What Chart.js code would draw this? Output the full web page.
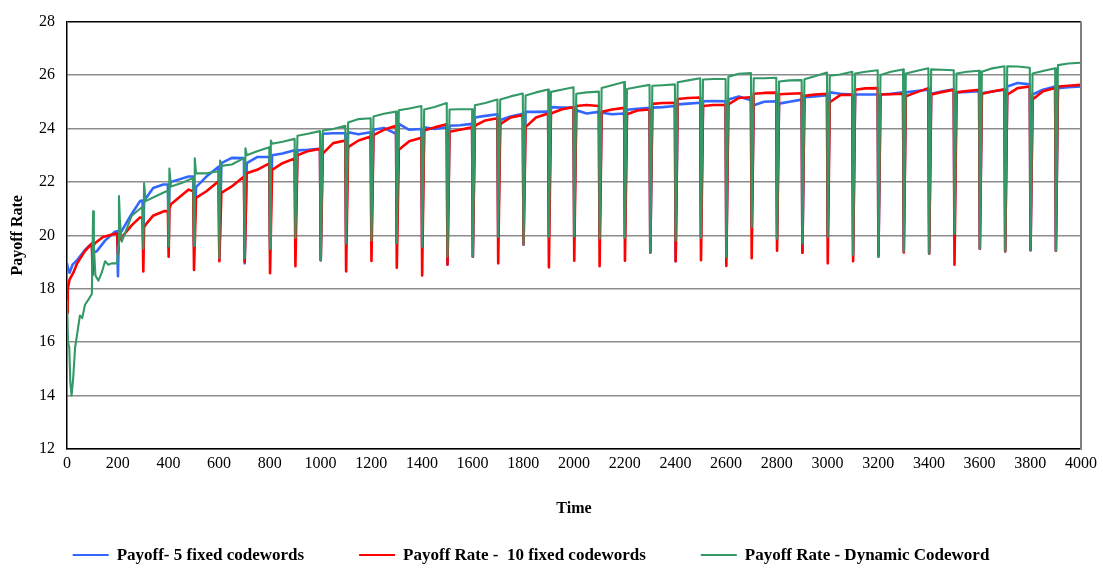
<!DOCTYPE html>
<html>
<head>
<meta charset="utf-8">
<title>Payoff Rate over Time</title>
<script src="https://cdn.jsdelivr.net/npm/chart.js@4.4.1/dist/chart.umd.min.js"></script>
<style>
  html, body { margin: 0; padding: 0; background: #ffffff; }
  #wrap { width: 1103px; height: 568px; }
</style>
</head>
<body>
<div id="wrap"><canvas id="chart" width="1103" height="568"></canvas></div>
<script>
// ---- series labels ----
const seriesLabels = [
  'Payoff- 5 fixed codewords',
  'Payoff Rate -  10 fixed codewords',
  'Payoff Rate - Dynamic Codeword'
];

// ---- axis ticks ----
const yTicks = [12, 14, 16, 18, 20, 22, 24, 26, 28];
const xTickStep = 200;
const xRange = [0, 4000];

// ---- first 500 time steps, sampled as [time, rate] ----
const blueEarly = [
  [0, 18.95], [4, 18.75], [10, 18.6], [22, 18.9], [40, 19.07], [70, 19.44], [90, 19.63], [98, 19.6],
  [101, 19.3], [104, 19.35], [117, 19.4], [150, 19.8], [189, 20.13], [198, 20.15],
  [201, 18.47], [204, 19.9], [212, 20.1], [255, 20.8], [288, 21.28], [298, 21.3],
  [301, 19.6], [304, 21.3], [312, 21.4], [340, 21.77], [380, 21.9], [398, 21.9],
  [401, 19.58], [404, 21.9], [410, 22.0], [480, 22.2], [498, 22.2]
];
const redEarly = [
  [0, 17.1], [3, 18.0], [10, 18.34], [25, 18.6], [40, 18.95], [70, 19.4], [98, 19.7],
  [101, 18.52], [104, 19.6], [110, 19.7], [142, 19.94], [189, 20.06], [198, 20.06],
  [201, 19.3], [204, 19.8], [212, 19.88], [255, 20.37], [288, 20.67], [298, 20.65],
  [301, 18.65], [304, 20.3], [312, 20.42], [339, 20.73], [385, 20.91], [398, 20.9],
  [401, 19.2], [404, 21.0], [410, 21.16], [480, 21.71], [498, 21.65]
];
const greenEarly = [
  [0, 17.6], [4, 16.0], [9, 15.8], [13, 14.5], [18, 14.0], [24, 14.6], [32, 15.8], [40, 16.3],
  [51, 17.0], [60, 16.9], [71, 17.4], [85, 17.6], [98, 17.8],
  [101, 19.5], [103, 20.9], [106, 19.6], [112, 18.5], [124, 18.3], [137, 18.6], [150, 19.03],
  [163, 18.9], [176, 18.95], [198, 18.95],
  [202, 19.6], [205, 21.47], [209, 20.5], [216, 19.76], [255, 20.73], [294, 21.04], [298, 21.0],
  [301, 19.5], [304, 21.95], [310, 21.28], [350, 21.46], [392, 21.65], [398, 21.65],
  [401, 19.58], [404, 22.5], [410, 21.83], [450, 21.95], [498, 22.15]
];

// ---- reset cycles from t = 500 to t = 3900 ----
const cycleTimes = [500, 600, 700, 800, 900, 1000, 1100, 1200, 1300, 1400, 1500, 1600, 1700, 1800,
  1900, 2000, 2100, 2200, 2300, 2400, 2500, 2600, 2700, 2800, 2900, 3000, 3100, 3200, 3300, 3400,
  3500, 3600, 3700, 3800, 3900];

// blue: payoff with 5 fixed codewords
const blueDip = [19.6, 19.1, 18.95, 19.5, 19.9, 19.07, 19.69, 19.8, 19.7, 19.57, 18.92, 19.2, 19.94, 19.66,
  19.94, 19.96, 19.87, 19.9, 19.36, 19.03, 19.9, 19.2, 20.3, 19.87, 19.35, 19.93, 19.26, 19.2, 19.39, 19.32,
  20.05, 19.5, 19.4, 19.44, 19.42];
const blueSettle = [21.8, 22.7, 22.7, 23.0, 23.18, 23.8, 23.86, 23.95, 24.17, 24.04, 24.1, 24.41, 24.32, 24.62,
  24.8, 24.68, 24.59, 24.7, 24.78, 24.9, 25.02, 25.08, 24.87, 24.93, 25.17, 25.35, 25.27, 25.27, 25.35, 25.3,
  25.35, 25.32, 25.57, 25.27, 25.51];
const blueMid = [22.2, 22.9, 22.93, 23.06, 23.2, 23.82, 23.78, 24.02, 23.95, 23.98, 24.12, 24.47, 24.45, 24.62,
  24.78, 24.56, 24.53, 24.74, 24.8, 24.93, 25.03, 25.2, 25.0, 25.0, 25.2, 25.3, 25.27, 25.3, 25.4, 25.38,
  25.37, 25.38, 25.7, 25.45, 25.54];
const blueEnd = [22.57, 22.89, 22.93, 23.18, 23.24, 23.82, 23.86, 23.8, 23.98, 24.04, 24.17, 24.53, 24.55, 24.63,
  24.78, 24.62, 24.56, 24.77, 24.84, 24.96, 25.02, 25.06, 25.02, 25.08, 25.24, 25.27, 25.27, 25.35, 25.45, 25.47,
  25.39, 25.45, 25.65, 25.57, 25.57];

// red: payoff rate with 10 fixed codewords
const redDip = [18.7, 19.03, 19.0, 18.58, 18.84, 19.07, 18.65, 19.04, 18.79, 18.5, 18.9, 19.2, 18.95, 19.66,
  18.8, 19.05, 18.84, 19.05, 19.36, 19.03, 19.07, 18.85, 19.14, 19.42, 19.35, 18.95, 19.03, 19.25, 19.36, 19.32,
  18.9, 19.5, 19.4, 19.44, 19.42];
const redSettle = [21.4, 21.59, 22.32, 22.45, 23.0, 23.06, 23.3, 23.75, 23.2, 23.92, 23.88, 24.1, 24.16, 24.05,
  24.56, 24.84, 24.62, 24.53, 24.92, 25.1, 24.84, 24.9, 25.3, 25.28, 25.22, 24.98, 25.45, 25.27, 25.2, 25.27,
  25.35, 25.3, 25.27, 25.08, 25.57];
const redMid = [21.65, 21.83, 22.45, 22.7, 23.15, 23.45, 23.55, 23.95, 23.52, 24.04, 23.95, 24.3, 24.41, 24.41,
  24.71, 24.88, 24.71, 24.67, 24.95, 25.14, 24.88, 25.14, 25.33, 25.3, 25.27, 25.25, 25.5, 25.28, 25.35, 25.36,
  25.4, 25.38, 25.51, 25.39, 25.6];
const redEnd = [22.02, 22.2, 22.69, 22.88, 23.24, 23.55, 23.7, 24.1, 23.65, 24.16, 24.04, 24.38, 24.5, 24.56,
  24.8, 24.84, 24.77, 24.71, 24.96, 25.16, 24.88, 25.17, 25.34, 25.32, 25.3, 25.26, 25.51, 25.3, 25.51, 25.45,
  25.45, 25.47, 25.57, 25.51, 25.63];

// green: payoff rate with dynamic codeword
const greenDip = [19.6, 19.14, 19.14, 19.5, 19.9, 19.07, 19.69, 19.8, 19.7, 19.57, 19.2, 19.2, 19.94, 19.66,
  19.94, 19.96, 19.87, 19.9, 19.36, 19.8, 19.9, 19.2, 20.3, 19.87, 19.69, 19.93, 19.26, 19.2, 19.39, 19.32,
  20.05, 19.5, 19.4, 19.44, 19.42];
const greenPeak = [22.88, 22.8, 23.26, 23.55, null, null, null, null, null, null, null, null, null, null,
  null, null, null, null, null, null, null, null, null, null, null, null, null, null, null, null,
  null, null, null, null, null];
const greenSettle = [22.32, 22.6, 23.0, 23.43, 23.73, 23.92, 24.22, 24.45, 24.68, 24.71, 24.71, 24.87, 25.08, 25.23,
  25.37, 25.3, 25.51, 25.48, 25.6, 25.73, 25.83, 25.94, 25.88, 25.76, 25.84, 25.97, 26.06, 26.0, 26.06, 26.21,
  26.06, 26.12, 26.33, 26.06, 26.37];
const greenMid = [22.32, 22.65, 23.15, 23.5, 23.8, 23.98, 24.35, 24.55, 24.75, 24.8, 24.72, 24.95, 25.2, 25.35,
  25.45, 25.35, 25.62, 25.55, 25.62, 25.8, 25.85, 26.05, 25.88, 25.8, 25.95, 26.02, 26.12, 26.12, 26.15, 26.2,
  26.12, 26.25, 26.32, 26.15, 26.43];
const greenEnd = [22.4, 22.89, 23.3, 23.61, 23.9, 24.1, 24.38, 24.63, 24.84, 24.95, 24.72, 25.08, 25.31, 25.46,
  25.54, 25.38, 25.74, 25.63, 25.65, 25.88, 25.85, 26.07, 25.9, 25.81, 26.09, 26.12, 26.18, 26.21, 26.25, 26.18,
  26.16, 26.33, 26.27, 26.25, 26.46];

// Each cycle: the sharp drop right after the reset, an optional overshoot,
// the settled level, the middle of the cycle and its last sample.
const cycleOffsets = { dip: 1, peak: 4, settle: 9, mid: 50, end: 98 };

function buildSeries(early, dips, peaks, settles, mids, ends) {
  const pts = early.map(([x, y]) => ({ x, y }));
  cycleTimes.forEach((t, i) => {
    pts.push({ x: t + cycleOffsets.dip, y: dips[i] });
    if (peaks && peaks[i] != null) pts.push({ x: t + cycleOffsets.peak, y: peaks[i] });
    pts.push({ x: t + cycleOffsets.settle, y: settles[i] });
    pts.push({ x: t + cycleOffsets.mid, y: mids[i] });
    pts.push({ x: t + cycleOffsets.end, y: ends[i] });
  });
  return pts;
}

const colors = ['rgb(51,102,255)', 'rgb(255,0,0)', 'rgb(51,153,102)'];
const FONT = "'Liberation Serif', 'Times New Roman', serif";

// right-hand frame edge of the plot area
const frameEdge = {
  id: 'frameEdge',
  afterDraw(chart) {
    const { ctx, chartArea: a } = chart;
    ctx.save();
    ctx.strokeStyle = '#808080';
    ctx.lineWidth = 2;
    ctx.beginPath();
    ctx.moveTo(a.right, a.top);
    ctx.lineTo(a.right, a.bottom + 1);
    ctx.stroke();
    ctx.restore();
  }
};

// legend row under the axis title
const lineLegend = {
  id: 'lineLegend',
  afterDraw(chart) {
    const { ctx } = chart;
    const sample = 36, gapText = 8, gapItem = 55, y = 555, centre = 531;
    ctx.save();
    ctx.font = 'bold 17px ' + FONT;
    ctx.textBaseline = 'middle';
    ctx.textAlign = 'left';
    const widths = seriesLabels.map(t => sample + gapText + ctx.measureText(t).width);
    const total = widths.reduce((s, w) => s + w, 0) + gapItem * (widths.length - 1);
    let x = centre - total / 2;
    seriesLabels.forEach((t, i) => {
      ctx.strokeStyle = colors[i];
      ctx.lineWidth = 2;
      ctx.beginPath();
      ctx.moveTo(x, y);
      ctx.lineTo(x + sample, y);
      ctx.stroke();
      ctx.fillStyle = '#000';
      ctx.fillText(t, x + sample + gapText, y + 1);
      x += widths[i] + gapItem;
    });
    ctx.restore();
  }
};

const datasets = [
  { label: seriesLabels[0], data: buildSeries(blueEarly, blueDip, null, blueSettle, blueMid, blueEnd),
    borderColor: colors[0], borderWidth: 2.6, order: 3 },
  { label: seriesLabels[1], data: buildSeries(redEarly, redDip, null, redSettle, redMid, redEnd),
    borderColor: colors[1], borderWidth: 2.6, order: 2 },
  { label: seriesLabels[2], data: buildSeries(greenEarly, greenDip, greenPeak, greenSettle, greenMid, greenEnd),
    borderColor: colors[2], borderWidth: 2.1, order: 1 }
].map(d => Object.assign(d, {
  pointRadius: 0, tension: 0, fill: false, borderJoinStyle: 'round', backgroundColor: d.borderColor
}));

new Chart(document.getElementById('chart'), {
  type: 'line',
  data: { datasets },
  options: {
    responsive: false,
    animation: false,
    parsing: false,
    layout: { padding: { left: 8, top: 14, right: 22, bottom: 0 } },
    plugins: { legend: { display: false }, tooltip: { enabled: false } },
    scales: {
      x: {
        type: 'linear',
        min: xRange[0], max: xRange[1],
        ticks: { stepSize: xTickStep, color: '#000', font: { family: FONT, size: 16 }, padding: 5,
                 maxRotation: 0, autoSkip: false, callback: v => String(v) },
        grid: { display: false, drawTicks: false },
        border: { display: true, color: '#000', width: 1.5 },
        title: { display: true, text: 'Time', color: '#000', font: { family: FONT, size: 16, weight: 'bold' },
                 padding: { top: 4, bottom: 50 } },
        afterFit(axis) { axis.height = 119; }
      },
      y: {
        min: yTicks[0], max: yTicks[yTicks.length - 1],
        afterBuildTicks(axis) { axis.ticks = yTicks.map(v => ({ value: v })); },
        ticks: { color: '#000', font: { family: FONT, size: 16 }, padding: 12 },
        grid: {
          drawTicks: false,
          color: c => (c.tick && c.tick.value === 28) ? '#000' : '#8c8c8c',
          lineWidth: 1.5
        },
        border: { display: true, color: '#000', width: 1.5 },
        title: { display: true, text: 'Payoff Rate', color: '#000', font: { family: FONT, size: 16, weight: 'bold' },
                 padding: { top: 0, bottom: 0 } },
        afterFit(axis) { axis.width = 59; }
      }
    }
  },
  plugins: [frameEdge, lineLegend]
});
</script>
</body>
</html>
